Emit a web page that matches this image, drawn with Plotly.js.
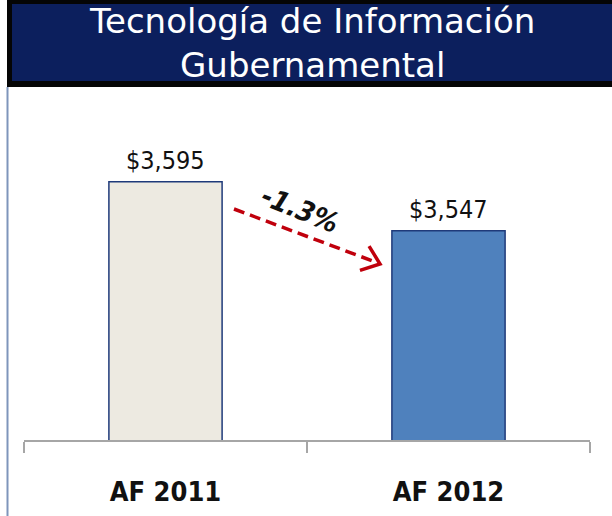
<!DOCTYPE html>
<html>
<head>
<meta charset="utf-8">
<script src="https://cdn.plot.ly/plotly-3.0.1.min.js"></script>
<style>html,body{margin:0;padding:0;background:#fff;}#chart{width:612px;height:516px;}</style>
</head>
<body>
<div id="chart"></div>
<script>
// Data
var categories = ["AF 2011", "AF 2012"];
var values = [3595, 3547];
var valueLabels = ["$3,595", "$3,547"];
var changeLabel = "-1.3%";
var titleText = "Tecnología de Información<br>Gubernamental";

var barColors = ["#edeae1", "#4f81bd"];

// helpers to convert pixel positions (within 612x516 canvas) to paper coords
var L = 24, R = 590, T = 88, B = 440;
function px(x){ return (x - L) / (R - L); }
function py(y){ return (B - y) / (B - T); }

var trace = {
  type: "bar",
  x: categories,
  y: values,
  width: 0.4,
  marker: { color: barColors, line: { color: "#1f3a7a", width: 1.5 } },
  hoverinfo: "none"
};

var annotations = categories.map(function(c, i){
  return {
    x: c, y: values[i], xref: "x", yref: "y",
    text: valueLabels[i], showarrow: false,
    yanchor: "bottom", yshift: 5,
    font: { family: "DejaVu Sans Condensed", size: 25, color: "#111111" }
  };
});

annotations.push({
  xref: "paper", yref: "paper", x: px(312), y: py(43),
  text: titleText, showarrow: false,
  xanchor: "center", yanchor: "middle",
  font: { family: "DejaVu Sans", size: 34, color: "#ffffff" }
});

annotations.push({
  xref: "paper", yref: "paper", x: px(300), y: py(209),
  text: changeLabel, showarrow: false, textangle: 22,
  xanchor: "center", yanchor: "middle",
  font: { family: "DejaVu Sans Condensed", size: 28, color: "#111111", weight: "bold", style: "italic" }
});

// arrow geometry
var ax0 = 234, ay0 = 209, ax1 = 378, ay1 = 263;
var dx = ax1 - ax0, dy = ay1 - ay0, len = Math.sqrt(dx*dx + dy*dy);
var bx = -dx/len, by = -dy/len, ang = 38*Math.PI/180, al = 21;
function rot(a){ return [bx*Math.cos(a) - by*Math.sin(a), bx*Math.sin(a) + by*Math.cos(a)]; }
var r1 = rot(ang), r2 = rot(-ang);
var tip = [ax1 + 2, ay1 + 1];
var headPath = "M " + px(tip[0] + r1[0]*al) + "," + py(tip[1] + r1[1]*al) +
               " L " + px(tip[0]) + "," + py(tip[1]) +
               " L " + px(tip[0] + r2[0]*al) + "," + py(tip[1] + r2[1]*al);

var shapes = [
  // title box border (black)
  { type: "rect", xref: "paper", yref: "paper", x0: px(7), x1: px(616), y0: py(87), y1: py(0),
    fillcolor: "#050505", line: { width: 0 }, layer: "above" },
  // navy fill
  { type: "rect", xref: "paper", yref: "paper", x0: px(12), x1: px(616), y0: py(81), y1: py(4),
    fillcolor: "#0c1f5d", line: { width: 0 }, layer: "above" },
  // left vertical rule
  { type: "line", xref: "paper", yref: "paper", x0: px(7.5), x1: px(7.5), y0: py(87), y1: py(520),
    line: { color: "#7f95bb", width: 2 } },
  // dashed arrow
  { type: "line", xref: "paper", yref: "paper", x0: px(ax0), y0: py(ay0), x1: px(ax1 - 4), y1: py(ay1 - 1.5),
    line: { color: "#c0000c", width: 3.5, dash: "11px,6px" } },
  { type: "path", xref: "paper", yref: "paper", path: headPath,
    line: { color: "#c0000c", width: 3.5 } }
];

var layout = {
  width: 612, height: 516,
  margin: { l: L, r: 612 - R, t: T, b: 516 - B, pad: 0 },
  paper_bgcolor: "#ffffff", plot_bgcolor: "#ffffff",
  showlegend: false,
  bargap: 0.6,
  xaxis: {
    type: "category", range: [-0.5, 1.5], fixedrange: true,
    showline: true, linecolor: "#a6a6a6", linewidth: 2,
    ticks: "outside", tickson: "boundaries", ticklen: 11, tickwidth: 2, tickcolor: "#a6a6a6",
    showgrid: false, zeroline: false,
    tickfont: { family: "DejaVu Sans Condensed", size: 27, color: "#111111", weight: "bold" },
    ticklabelstandoff: 27
  },
  yaxis: { visible: false, range: [3342, 3687], fixedrange: true, showgrid: false, zeroline: false },
  annotations: annotations,
  shapes: shapes
};

Plotly.newPlot("chart", [trace], layout, { staticPlot: true, displayModeBar: false });
</script>
</body>
</html>
